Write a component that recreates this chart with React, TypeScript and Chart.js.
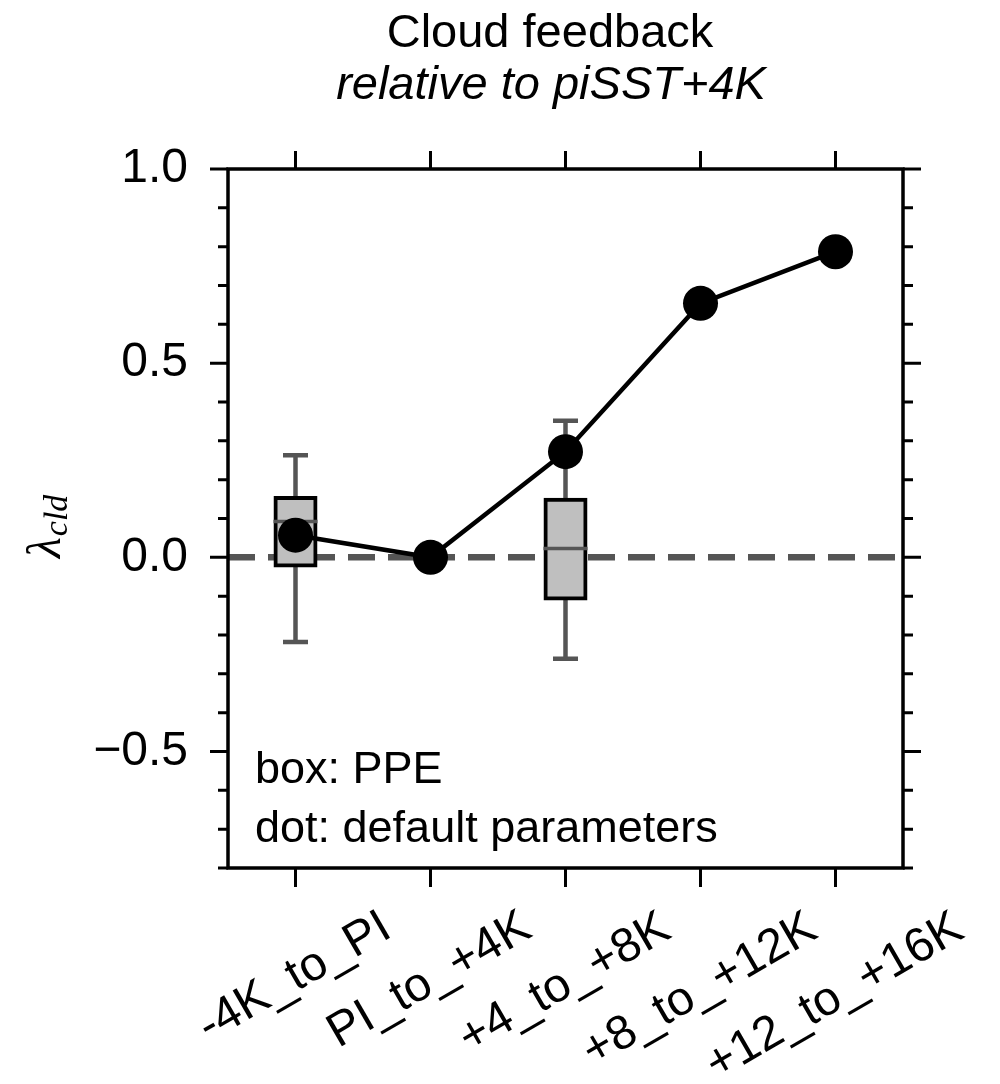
import { useEffect, useRef } from 'react';
import { Chart, registerables } from 'chart.js';

Chart.register(...registerables);

const categories = ['-4K_to_PI', 'PI_to_+4K', '+4_to_+8K', '+8_to_+12K', '+12_to_+16K'];
const defaultDots = [0.057, 0.0, 0.272, 0.654, 0.787];
const boxWhiskerLow: (number | null)[] = [-0.218, null, -0.261, null, null];
const boxQ1: (number | null)[] = [-0.021, null, -0.106, null, null];
const boxMedian: (number | null)[] = [0.092, null, 0.023, null, null];
const boxQ3: (number | null)[] = [0.153, null, 0.148, null, null];
const boxWhiskerHigh: (number | null)[] = [0.263, null, 0.352, null, null];
const yTickLabelValues = [-0.5, 0.0, 0.5, 1.0];
const yMin = -0.8;
const yMax = 1.0;
const yStep = 0.1;
const titleText = 'Cloud feedback';
const subtitleText = 'relative to piSST+4K';
const annotationLines = ['box: PPE', 'dot: default parameters'];
const yLabelMain = 'λ';
const yLabelSub = 'cld';

const SANS = '"Liberation Sans", Arial, Helvetica, sans-serif';
const SERIF = '"Liberation Serif", "DejaVu Serif", serif';
const GRAY = '#555555';

function fmtTick(v: number): string {
  const r = Math.round(v * 10) / 10;
  const s = Math.abs(r).toFixed(1);
  return r < 0 ? '\u2212' + s : s;
}

const decorPlugin = {
  id: 'decor',
  beforeDatasetsDraw(chart: any) {
    const { ctx, chartArea: a, scales } = chart;
    const x = scales.x;
    const y = scales.y;
    ctx.save();
    // dashed zero line
    const y0 = y.getPixelForValue(0);
    ctx.strokeStyle = GRAY;
    ctx.lineWidth = 6.5;
    ctx.setLineDash([27, 13]);
    ctx.lineDashOffset = 0;
    ctx.beginPath();
    ctx.moveTo(a.left, y0);
    ctx.lineTo(a.right, y0);
    ctx.stroke();
    ctx.setLineDash([]);
    // whiskers
    ctx.strokeStyle = GRAY;
    ctx.lineWidth = 4.5;
    ctx.lineCap = 'butt';
    categories.forEach((_, i) => {
      const q1 = boxQ1[i];
      const q3 = boxQ3[i];
      const lo = boxWhiskerLow[i];
      const hi = boxWhiskerHigh[i];
      if (q1 == null || q3 == null || lo == null || hi == null) return;
      const cx = x.getPixelForValue(i);
      const capHalf = 12.5;
      ctx.beginPath();
      ctx.moveTo(cx, y.getPixelForValue(lo));
      ctx.lineTo(cx, y.getPixelForValue(q1));
      ctx.moveTo(cx, y.getPixelForValue(q3));
      ctx.lineTo(cx, y.getPixelForValue(hi));
      ctx.moveTo(cx - capHalf, y.getPixelForValue(lo));
      ctx.lineTo(cx + capHalf, y.getPixelForValue(lo));
      ctx.moveTo(cx - capHalf, y.getPixelForValue(hi));
      ctx.lineTo(cx + capHalf, y.getPixelForValue(hi));
      ctx.stroke();
    });
    ctx.restore();
  },
  afterDatasetDraw(chart: any, args: any) {
    if (args.index !== 0) return;
    const { ctx, scales } = chart;
    const y = scales.y;
    const meta = chart.getDatasetMeta(0);
    ctx.save();
    ctx.strokeStyle = GRAY;
    ctx.lineWidth = 3.5;
    categories.forEach((_, i) => {
      const m = boxMedian[i];
      const el = meta.data[i];
      if (m == null || !el) return;
      const half = el.width / 2 + 2;
      const py = y.getPixelForValue(m);
      ctx.beginPath();
      ctx.moveTo(el.x - half, py);
      ctx.lineTo(el.x + half, py);
      ctx.stroke();
    });
    ctx.restore();
  },
  afterDraw(chart: any) {
    const { ctx, chartArea: a, scales } = chart;
    const x = scales.x;
    const y = scales.y;
    ctx.save();
    // frame
    ctx.strokeStyle = '#000';
    ctx.lineWidth = 3.5;
    ctx.strokeRect(a.left, a.top, a.right - a.left, a.bottom - a.top);
    // y ticks (left and right)
    ctx.lineWidth = 3;
    y.ticks.forEach((t: any) => {
      const py = y.getPixelForValue(t.value);
      const major = yTickLabelValues.some((v) => Math.abs(v - t.value) < 1e-6);
      const len = major ? 18 : 10;
      ctx.beginPath();
      ctx.moveTo(a.left, py);
      ctx.lineTo(a.left - len, py);
      ctx.moveTo(a.right, py);
      ctx.lineTo(a.right + len, py);
      ctx.stroke();
    });
    // x ticks (top and bottom)
    categories.forEach((_, i) => {
      const px = x.getPixelForValue(i);
      ctx.beginPath();
      ctx.moveTo(px, a.top);
      ctx.lineTo(px, a.top - 18);
      ctx.moveTo(px, a.bottom);
      ctx.lineTo(px, a.bottom + 19);
      ctx.stroke();
    });
    // x tick labels, rotated 30 degrees, bbox centred on tick
    ctx.fillStyle = '#000';
    ctx.font = `48px ${SANS}`;
    const rot = Math.PI / 6;
    const bboxTop = a.bottom + 39;
    categories.forEach((lab, i) => {
      const px = x.getPixelForValue(i);
      const m = ctx.measureText(lab);
      const asc = m.actualBoundingBoxAscent;
      const desc = m.actualBoundingBoxDescent;
      const w = m.width;
      const h = asc + desc;
      const H = w * Math.sin(rot) + h * Math.cos(rot);
      ctx.save();
      ctx.translate(px, bboxTop + H / 2);
      ctx.rotate(-rot);
      ctx.textAlign = 'center';
      ctx.textBaseline = 'alphabetic';
      ctx.fillText(lab, 0, (asc - desc) / 2);
      ctx.restore();
    });
    // titles
    ctx.textAlign = 'center';
    ctx.textBaseline = 'alphabetic';
    ctx.font = `47px ${SANS}`;
    ctx.fillText(titleText, 550, 47);
    ctx.font = `italic 47px ${SANS}`;
    ctx.fillText(subtitleText, 551, 99);
    // annotation
    ctx.textAlign = 'left';
    ctx.font = `45px ${SANS}`;
    ctx.fillText(annotationLines[0], a.left + 27, 783);
    ctx.fillText(annotationLines[1], a.left + 27, 842);
    // y axis label
    ctx.save();
    ctx.translate(42, 528);
    ctx.rotate(-Math.PI / 2);
    ctx.textAlign = 'left';
    ctx.font = `italic 48px ${SERIF}`;
    const wl = ctx.measureText(yLabelMain).width;
    ctx.fillText(yLabelMain, -30, 18);
    ctx.font = `italic 34px ${SERIF}`;
    ctx.fillText(yLabelSub, -30 + wl + 1, 25);
    ctx.restore();
    ctx.restore();
  },
};

export default function App() {
  const ref = useRef<HTMLCanvasElement | null>(null);
  useEffect(() => {
    if (!ref.current) return;
    const chart = new Chart(ref.current, {
      type: 'bar',
      data: {
        labels: categories,
        datasets: [
          {
            type: 'bar',
            label: 'PPE',
            data: boxQ1.map((q, i) => (q == null || boxQ3[i] == null ? null : [q, boxQ3[i] as number])) as any,
            backgroundColor: '#bfbfbf',
            borderColor: '#000000',
            borderWidth: 4,
            borderSkipped: false,
            barThickness: 40,
            inflateAmount: 2,
            order: 2,
          } as any,
          {
            type: 'line',
            label: 'default parameters',
            data: defaultDots,
            borderColor: '#000000',
            backgroundColor: '#000000',
            borderWidth: 4.5,
            pointRadius: 17.5,
            pointHoverRadius: 17.5,
            pointBorderWidth: 0,
            pointBackgroundColor: '#000000',
            tension: 0,
            clip: false,
            order: 1,
          } as any,
        ],
      },
      options: {
        responsive: false,
        maintainAspectRatio: false,
        animation: false,
        devicePixelRatio: 1,
        events: [],
        layout: { padding: { top: 169, right: 97, left: 0, bottom: 0 } },
        plugins: {
          legend: { display: false },
          tooltip: { enabled: false },
          title: { display: false },
        },
        scales: {
          x: {
            type: 'category',
            offset: true,
            grid: { display: false, drawTicks: false },
            border: { display: false },
            ticks: { display: false },
            afterFit: (s: any) => {
              s.height = 216;
            },
          },
          y: {
            type: 'linear',
            min: yMin,
            max: yMax,
            grid: { display: false, drawTicks: false },
            border: { display: false },
            ticks: {
              stepSize: yStep,
              autoSkip: false,
              padding: 40,
              color: '#000000',
              font: { family: SANS, size: 48 },
              callback: (v: any) => {
                const n = Number(v);
                return yTickLabelValues.some((t) => Math.abs(t - n) < 1e-6) ? fmtTick(n) : '';
              },
            },
            afterFit: (s: any) => {
              s.width = 228;
            },
          },
        },
      },
      plugins: [decorPlugin],
    });
    return () => chart.destroy();
  }, []);
  return (
    <div style={{ position: 'absolute', left: 0, top: 0, width: 1000, height: 1084, background: '#fff' }}>
      <canvas ref={ref} width={1000} height={1084} style={{ display: 'block' }} />
    </div>
  );
}
